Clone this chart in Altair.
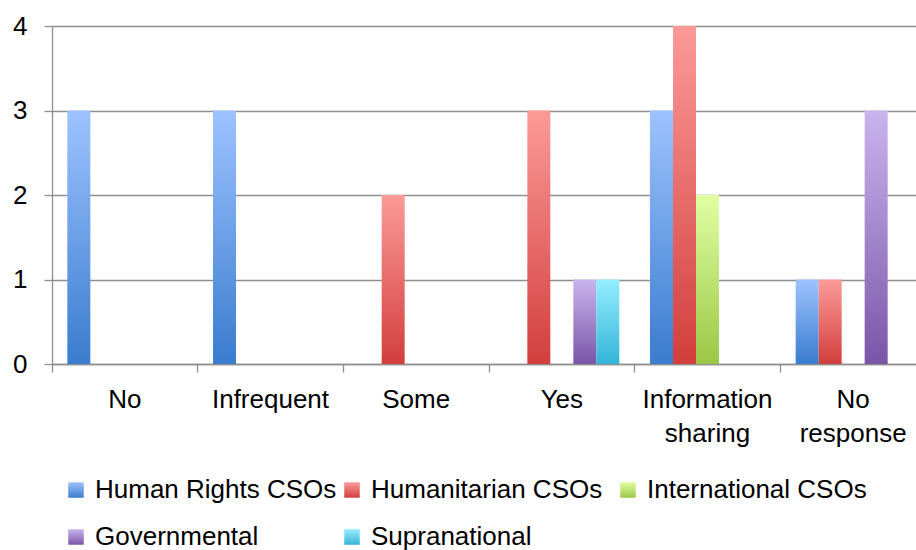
import altair as alt
import pandas as pd

categories = ["No", "Infrequent", "Some", "Yes", "Information sharing", "No response"]
series = ["Human Rights CSOs", "Humanitarian CSOs", "International CSOs", "Governmental", "Supranational"]

human_rights = [3, 3, 0, 0, 3, 1]
humanitarian = [0, 0, 2, 3, 4, 1]
international = [0, 0, 0, 0, 2, 0]
governmental = [0, 0, 0, 1, 0, 3]
supranational = [0, 0, 0, 1, 0, 0]

top_colors = ["#9dc3ff", "#fb9a98", "#e0ffa2", "#c9b4ee", "#94eeff"]
bottom_colors = ["#3a7cce", "#d23f3d", "#9bc746", "#7b55a8", "#35b4d8"]

values_by_series = [human_rights, humanitarian, international, governmental, supranational]
rows = []
for s, vals in zip(series, values_by_series):
    for c, v in zip(categories, vals):
        rows.append({"category": c, "series": s, "value": v})
df = pd.DataFrame(rows)


def grad(top, bottom):
    return {"expr": "{gradient: 'linear', x1: 1, y1: 0, x2: 1, y2: 1, stops: ["
                    f"{{offset: 0, color: '{top}'}}, {{offset: 1, color: '{bottom}'}}]}}"}


FONT = "Liberation Sans"
GRID = "#8e8e8e"

chart = alt.Chart(df).transform_filter("datum.value > 0").mark_bar().encode(
    x=alt.X(
        "category:N", sort=categories,
        scale=alt.Scale(domain=categories, range=[0, 874], paddingInner=0, paddingOuter=0),
        axis=alt.Axis(title=None, labelAngle=0, bandPosition=0, grid=False, tickSize=8,
                      labelPadding=14, labelFontSize=26, labelColor="black",
                      labelExpr="split(datum.label, ' ')", labelLineHeight=34,
                      labelBaseline="top", domainColor=GRID, tickColor=GRID,
                      domainWidth=1.3, tickWidth=1.3),
    ),
    xOffset=alt.XOffset(
        "series:N", sort=series,
        scale=alt.Scale(domain=series, paddingInner=0, paddingOuter=0.667),
    ),
    y=alt.Y(
        "value:Q", scale=alt.Scale(domain=[0, 4], nice=False),
        axis=alt.Axis(title=None, values=[0, 1, 2, 3, 4], tickSize=8, labelPadding=17,
                      labelFontSize=26, labelColor="black",
                      gridColor=GRID, gridWidth=1.5, domainColor=GRID, tickColor=GRID,
                      domainWidth=1.3, tickWidth=1.3),
    ),
    color=alt.Color(
        "series:N", sort=series,
        scale=alt.Scale(domain=series,
                        range=[grad(t, b) for t, b in zip(top_colors, bottom_colors)]),
        legend=alt.Legend(title=None, orient="none", direction="horizontal",
                          legendX=11, legendY=451, columns=3, padding=0,
                          gridAlign="all", columnPadding=2, rowPadding=21,
                          symbolType="square", symbolSize=240, symbolStrokeWidth=0,
                          labelFontSize=26, labelColor="black",
                          labelLimit=500, labelOffset=6),
    ),
).properties(
    width=864, height=338,
    padding={"left": 52, "top": 26, "right": 0, "bottom": 186},
    autosize=alt.AutoSizeParams(type="none"),
).configure(font=FONT).configure_view(strokeWidth=0)

chart.save("out.html", embed_options={"renderer": "svg", "actions": False})
